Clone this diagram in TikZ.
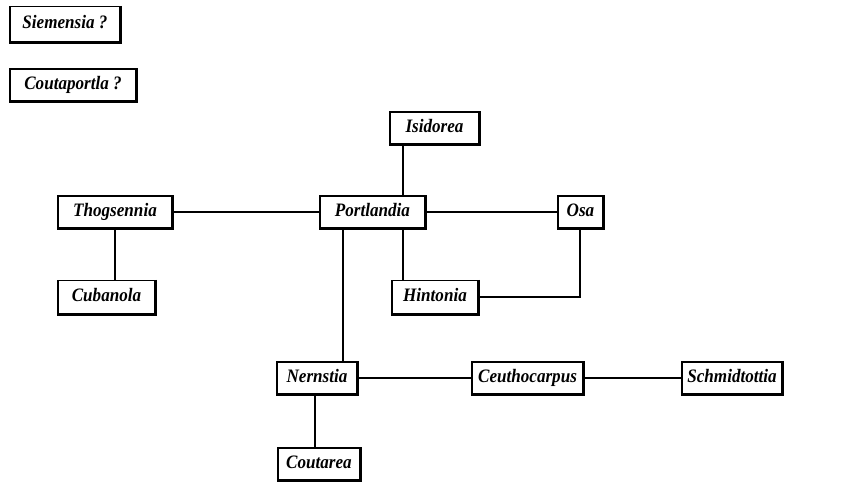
\documentclass[tikz,border=0pt]{standalone}
\usepackage{fontspec}
\setmainfont{Liberation Serif}[FakeStretch=0.9]
\begin{document}
\begin{tikzpicture}[x=1pt,y=-1pt,
  genus/.style={draw, line width=1.2pt, inner sep=0pt, text height=12pt, text depth=4pt, font=\fontsize{19}{21}\selectfont\bfseries\itshape, anchor=center},
  link/.style={line width=1.2pt},
  shade/.style={line width=1.3pt}]
\useasboundingbox (0,0) rectangle (850,483);
\node[genus, minimum width=110, minimum height=35] (siem) at (65,24) {Siemensia ?};
\node[genus, minimum width=126, minimum height=32] (couta) at (73,85) {Coutaportla ?};
\node[genus, minimum width=89, minimum height=32] (isid) at (434.5,128) {Isidorea};
\node[genus, minimum width=114, minimum height=32] (thog) at (115,212) {Thogsennia};
\node[genus, minimum width=105, minimum height=32] (port) at (372.5,212) {Portlandia};
\node[genus, minimum width=45, minimum height=32] (osa) at (580.5,212) {Osa};
\node[genus, minimum width=97, minimum height=33] (cuba) at (106.5,297) {Cubanola};
\node[genus, minimum width=86, minimum height=33] (hint) at (435,297) {Hintonia};
\node[genus, minimum width=80, minimum height=32] (nern) at (317,378) {Nernstia};
\node[genus, minimum width=111, minimum height=32] (ceut) at (527.5,378) {Ceuthocarpus};
\node[genus, minimum width=100, minimum height=32] (schm) at (732,378) {Schmidtottia};
\node[genus, minimum width=82, minimum height=32] (coutr) at (319,464) {Coutarea};
\foreach \n in {siem,couta,isid,thog,port,osa,cuba,hint,nern,ceut,schm,coutr}{
  \draw[shade] ([xshift=1pt]\n.north east) -- ([xshift=1pt,yshift=-1pt]\n.south east) -- ([yshift=-1pt]\n.south west);
}
\coordinate (xa) at (403,0);
\coordinate (xb) at (343,0);
\coordinate (xc) at (315,0);
\coordinate (xd) at (115,0);
\coordinate (xe) at (580,0);
\draw[link] (thog) -- (port);
\draw[link] (port) -- (osa);
\draw[link] (xd |- thog.south) -- (xd |- cuba.north);
\draw[link] (xa |- isid.south) -- (xa |- port.north);
\draw[link] (xa |- port.south) -- (xa |- hint.north);
\draw[link] (hint.east) -| (xe |- osa.south);
\draw[link] (xb |- port.south) -- (xb |- nern.north);
\draw[link] (nern) -- (ceut);
\draw[link] (ceut) -- (schm);
\draw[link] (xc |- nern.south) -- (xc |- coutr.north);
\end{tikzpicture}
\end{document}
